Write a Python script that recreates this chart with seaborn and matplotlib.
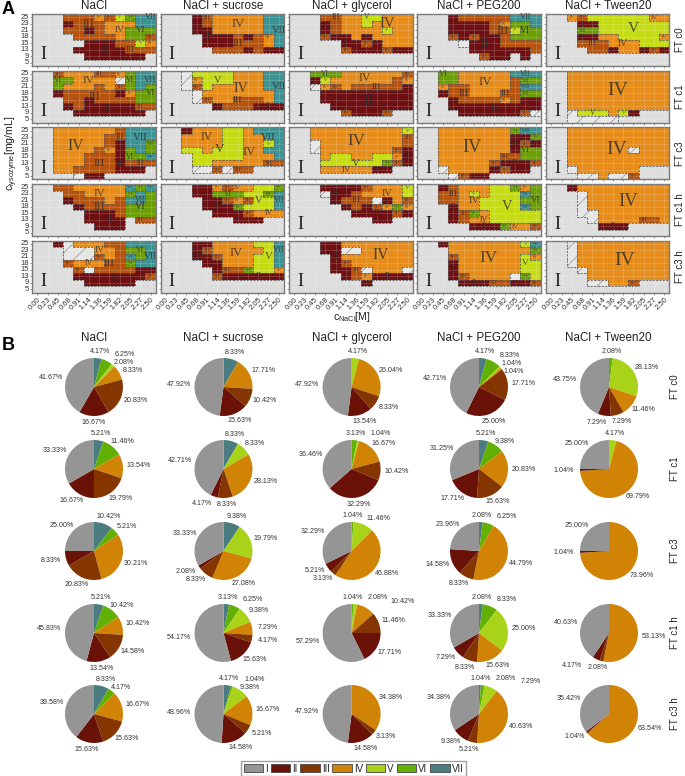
import numpy as np
import pandas as pd
import seaborn as sns
import matplotlib.pyplot as plt
from matplotlib.collections import LineCollection
from matplotlib.colors import ListedColormap
from matplotlib.patches import Patch, Rectangle

# =========================
# AXIS VALUES / NAMES
# =========================
nacl = ["0.00", "0.23", "0.45", "0.68", "0.91", "1.14", "1.36", "1.59", "1.82", "2.05", "2.27", "2.50"]
lysozyme = ["25", "23", "21", "18", "15", "13", "9", "5"]
solutions = ["NaCl", "NaCl + sucrose", "NaCl + glycerol", "NaCl + PEG200", "NaCl + Tween20"]
cycles = ["FT c0", "FT c1", "FT c3", "FT c1 h", "FT c3 h"]
phases = ["I", "II", "III", "IV", "V", "VI", "VII"]

# =========================
# PHASE MAPS, top row = 25 mg/mL, 0 = hatched
# =========================
nacl_c0 = ["111333435677", "111233344477", "111332344666", "111133334663",
           "111112223354", "111122222333", "111112222221", "111111111111"]
nacl_c1 = ["113444334677", "116644440677", "116444343676", "112333332466",
           "111332333366", "111232222233", "111122222221", "111111111111"]
nacl_c3 = ["114444443777", "114444433777", "114444432776", "114444342676",
           "114443332667", "114443332333", "114433332221", "111102211111"]
nacl_c1h = ["113344444767", "111334444676", "111233343776", "111123333666",
            "111112223666", "111112222133", "111111222111", "111111111111"]
nacl_c3h = ["112044433777", "111000443667", "111000343767", "111344433677",
            "111130333322", "111122222223", "111112222211", "111111111111"]

sucrose_c0 = ["111234444477", "111234444477", "111224444477", "111122232347",
              "111122233347", "111113332322", "111111111111", "111111111111"]
sucrose_c1 = ["110555544477", "110455544477", "110354444477", "111044444447",
              "111034433347", "111112333222", "111111111111", "111111111111"]
sucrose_c3 = ["112444554777", "114444554477", "114444554457", "115545554477",
              "111555554447", "111554444433", "111003033111", "111111111111"]
sucrose_c1h = ["111224344556", "111226665567", "111122343557", "111122265557",
               "111112223444", "111111122211", "111111111111", "111111111111"]
sucrose_c3h = ["111224444557", "111234444457", "111223444557", "111122444557",
               "111112336554", "111113222222", "111111111111", "111111111111"]

glycerol_c0 = ["111334455444", "111234454444", "111234444544", "111322424444",
               "111112232444", "111113222322", "111111111111", "111111111111"]
glycerol_c1 = ["116664444443", "112544444434", "110434333332", "111222222222",
               "111222222222", "111122222222", "111113222311", "111111111111"]
glycerol_c3 = ["114444444445", "114444444443", "110444444443", "110444444432",
               "111455445542", "111555555632", "111444442211", "111111111111"]
glycerol_c1h = ["111222234445", "111022344445", "111123330243", "111112323464",
                "111111222232", "111111112211", "111111111111", "111111111111"]
glycerol_c3h = ["111224444444", "111220044444", "111124444444", "111123444444",
                "111122304440", "111112342222", "111111121111", "111111111111"]

peg_c0 = ["111233333777", "111222234667", "111222233566", "111323223666",
          "111102223333", "111112222223", "111111322121", "111111111111"]
peg_c1 = ["116644444777", "116644444366", "114334444377", "112334443366",
          "111233334322", "111222222222", "111122222230", "111111111111"]
peg_c3 = ["114444444677", "114444444226", "114444444232", "114444444266",
          "114444443366", "114444432223", "110444423221", "111032211111"]
peg_c1h = ["112344455646", "113345455576", "113344555566", "111244555576",
           "111236455555", "111234455555", "111112226443", "111111111111"]
peg_c3h = ["112444444457", "111444444446", "111344444454", "111244444455",
           "111244444455", "111234444065", "111122233223", "111111111111"]

tween_c0 = ["114355555544", "111225555555", "111665555555", "111224455554",
            "111333444555", "111133244232", "111111111111", "111111111111"]
tween_c1 = ["114444444444", "114444444444", "114444444444", "114444444444",
            "114444444444", "114444444444", "110555452111", "110000011111"]
tween_c3 = ["114444444444", "114444444444", "114444444444", "114444440444",
            "114444444444", "114444444444", "110444444111", "111004003111"]
tween_c1h = ["112444444444", "111044444444", "111044444444", "111044444444",
             "111004444444", "111104444334", "111112221111", "111111111111"]
tween_c3h = ["110444444444", "110444444444", "110444444444", "110444444444",
             "111044444444", "111144444444", "111100443111", "111111111111"]

maps = [
    [nacl_c0, nacl_c1, nacl_c3, nacl_c1h, nacl_c3h],
    [sucrose_c0, sucrose_c1, sucrose_c3, sucrose_c1h, sucrose_c3h],
    [glycerol_c0, glycerol_c1, glycerol_c3, glycerol_c1h, glycerol_c3h],
    [peg_c0, peg_c1, peg_c3, peg_c1h, peg_c3h],
    [tween_c0, tween_c1, tween_c3, tween_c1h, tween_c3h],
]

# =========================
# PIE SHARES (%), order I..VII, one row per FT condition
# =========================
pie_nacl = [[41.67, 16.67, 20.83, 8.33, 2.08, 6.25, 4.17],
            [33.33, 16.67, 19.79, 13.54, 0, 11.46, 5.21],
            [25.00, 8.33, 20.83, 30.21, 0, 5.21, 10.42],
            [45.83, 13.54, 14.58, 10.42, 0, 10.42, 5.21],
            [39.58, 15.63, 15.63, 16.67, 0, 4.17, 8.33]]
pie_sucrose = [[47.92, 15.63, 10.42, 17.71, 0, 0, 8.33],
               [42.71, 4.17, 8.33, 28.13, 8.33, 0, 8.33],
               [33.33, 2.08, 8.33, 27.08, 19.79, 0, 9.38],
               [54.17, 15.63, 4.17, 7.29, 9.38, 6.25, 3.13],
               [48.96, 14.58, 5.21, 16.67, 9.38, 1.04, 4.17]]
pie_glycerol = [[47.92, 13.54, 8.33, 26.04, 4.17, 0, 0],
                [36.46, 32.29, 10.42, 16.67, 1.04, 3.13, 0],
                [32.29, 5.21, 3.13, 46.88, 11.46, 1.04, 0],
                [57.29, 17.71, 11.46, 10.42, 2.08, 1.04, 0],
                [47.92, 14.58, 3.13, 34.38, 0, 0, 0]]
pie_peg = [[42.71, 25.00, 17.71, 1.04, 1.04, 8.33, 4.17],
           [31.25, 17.71, 15.63, 20.83, 0, 9.38, 5.21],
           [23.96, 14.58, 8.33, 44.79, 0, 6.25, 2.08],
           [33.33, 7.29, 8.33, 15.63, 25.00, 8.33, 2.08],
           [34.38, 9.38, 5.21, 40.63, 7.29, 2.08, 1.04]]
pie_tween = [[43.75, 7.29, 7.29, 11.46, 28.13, 2.08, 0],
             [25.00, 1.04, 0, 69.79, 4.17, 0, 0],
             [25.00, 1.04, 0, 73.96, 0, 0, 0],
             [40.63, 4.17, 2.08, 53.13, 0, 0, 0],
             [35.42, 1.04, 0, 63.54, 0, 0, 0]]
pies = [pie_nacl, pie_sucrose, pie_glycerol, pie_peg, pie_tween]

# colours: index 0 = hatched cell background
tile_colors = ["#E6E6E6", "#DDDDDD", "#6E0F12", "#B5530F", "#E68C1B", "#C5DC15", "#6C9E06", "#3D9393"]
pie_colors = ["#959595", "#6A1208", "#843500", "#D18305", "#A9D318", "#62B004", "#4B7D80"]

sns.set_theme(style="white")
plt.rcParams["font.family"] = ["Liberation Sans", "DejaVu Sans"]
plt.rcParams["hatch.linewidth"] = 0.5
plt.rcParams["mathtext.fontset"] = "custom"
plt.rcParams["mathtext.rm"] = "Liberation Sans"

W, H = 685, 776
fig = plt.figure(figsize=(W / 100, H / 100), dpi=100)


def box(x0, y0, x1, y1):
    return [x0 / W, 1 - y1 / H, (x1 - x0) / W, (y1 - y0) / H]


def find_regions(grid):
    # connected cells of one phase, smallest first (they have the fewest free spots)
    seen = np.zeros(grid.shape, bool)
    regions = []
    for r0, c0 in np.ndindex(grid.shape):
        if seen[r0, c0] or grid[r0, c0] <= 1:
            continue
        cells, todo = [], [(r0, c0)]
        seen[r0, c0] = True
        while todo:
            r, c = todo.pop()
            cells.append((r, c))
            for rr, cc in [(r + 1, c), (r - 1, c), (r, c + 1), (r, c - 1)]:
                if 0 <= rr < grid.shape[0] and 0 <= cc < grid.shape[1]:
                    if not seen[rr, cc] and grid[rr, cc] == grid[r, c]:
                        seen[rr, cc] = True
                        todo.append((rr, cc))
        regions.append((grid[r0, c0], cells))
    return sorted(regions, key=lambda g: len(g[1]))


def label_phases(ax, grid):
    # the I region is always labelled bottom left
    ax.text(1.07, 6.3, "I", family="Liberation Serif", fontsize=13, color="#222222", ha="center", va="center")
    placed = []
    for phase, cells in find_regions(grid):
        name = phases[phase - 1]
        pts = np.array(cells, float) + 0.5
        mid = pts.mean(axis=0)
        order = pts[np.argsort(((pts - mid) ** 2).sum(axis=1))]
        spots = [mid] + list(order) if len(cells) > 12 else list(order)
        size = min(14, 3.4 + 1.5 * np.sqrt(len(cells) - 1))
        # half sizes in cell units (cell = 10.3 x 6.5 px)
        hw = len(name) * 0.3 * size * 100 / 72 / 10.3
        hh = 0.33 * size * 100 / 72 / 6.5
        spot = spots[0]
        for s in spots:
            if all(abs(s[1] - p[0]) > hw + p[2] or abs(s[0] - p[1]) > hh + p[3] for p in placed):
                spot = s
                break
        placed.append((spot[1], spot[0], hw, hh))
        ax.text(spot[1], spot[0], name, family="Liberation Serif", fontsize=size, color="#2b2b2b",
                alpha=0.8, ha="center", va="center")


def draw_map(ax, rows, show_x, show_y):
    grid = np.array([[int(ch) for ch in row] for row in rows])
    table = pd.DataFrame(grid, index=lysozyme, columns=nacl)
    sns.heatmap(table, ax=ax, cmap=ListedColormap(tile_colors), vmin=-0.5, vmax=7.5, cbar=False,
                xticklabels=show_x, yticklabels=show_y, linewidths=0)
    for r, c in zip(*np.where(grid == 0)):
        ax.add_patch(Rectangle((c, r), 1, 1, fill=False, hatch="//", edgecolor="#8c8c8c", lw=0))
    segs = []
    for r, c in np.ndindex(grid.shape):
        if c + 1 < grid.shape[1] and grid[r, c] != grid[r, c + 1]:
            segs.append([(c + 1, r), (c + 1, r + 1)])
        if r + 1 < grid.shape[0] and grid[r, c] != grid[r + 1, c]:
            segs.append([(c, r + 1), (c + 1, r + 1)])
    ax.add_collection(LineCollection(segs, colors="#5a5a5a", linewidths=0.6, linestyles=[(0, (2.5, 1.5))]))
    label_phases(ax, grid)
    ax.grid(True, color="white", alpha=0.22, lw=0.5)
    ax.set_axisbelow(False)
    ax.set_xlabel("")
    ax.set_ylabel("")
    for s in ax.spines.values():
        s.set_visible(True)
        s.set_color("#7a7a7a")
        s.set_linewidth(1.0)
    ax.tick_params(bottom=True, left=True, length=1.6, width=0.4, color="#555555", labelsize=5.5,
                   labelcolor="#333333", pad=1)
    ax.set_xticks(np.arange(len(nacl)) + 0.5)
    ax.set_yticks(np.arange(len(lysozyme)) + 0.5)
    if show_x:
        ax.set_xticklabels(nacl, rotation=45, ha="right", rotation_mode="anchor")
    else:
        ax.set_xticklabels([])
    if show_y:
        ax.set_yticklabels(lysozyme, rotation=0)
    else:
        ax.set_yticklabels([])


def draw_pie(ax, shares):
    vals = shares[::-1]
    cols = pie_colors[::-1]
    keep = [i for i, v in enumerate(vals) if v > 0]
    vals = [vals[i] for i in keep]
    ax.pie(vals, colors=[cols[i] for i in keep], startangle=90, counterclock=False, radius=1,
           wedgeprops={"linewidth": 0})
    ax.set_xlim(-1, 1)
    ax.set_ylim(-1, 1)
    # labels around the rim, nudged apart where slices are thin
    R = 29.0
    ang = 0.0
    last = None
    for v in vals:
        a = np.deg2rad(ang + v * 3.6 / 2)
        ang += v * 3.6
        x = (R + 16) * np.sin(a)
        y = (R + 7) * np.cos(a)
        if last is not None and abs(x - last[0]) < 25 and abs(y - last[1]) < 8:
            if abs(y) > 0.85 * (R + 7):
                x = last[0] + 25 if y > 0 else last[0] - 25
            else:
                y = last[1] - 8 if x >= 0 else last[1] + 8
        last = (x, y)
        ax.text(x / R, y / R, f"{v:.2f}%", fontsize=5.1, color="#333333", ha="center", va="center",
                clip_on=False)


# =========================
# PANEL A - phase maps
# =========================
map_x = [(32.3, 155.7), (160.7, 284), (289.3, 412.7), (417.3, 540.7), (546.3, 669.3)]
map_y = [(14, 66), (70.7, 122.7), (127.3, 179.3), (184, 236), (240.7, 292.7)]

for i, (x0, x1) in enumerate(map_x):
    for j, (y0, y1) in enumerate(map_y):
        ax = fig.add_axes(box(x0, y0, x1, y1))
        draw_map(ax, maps[i][j], j == len(map_y) - 1, i == 0)

title_x = [94, 223, 352, 479, 608]
for t, x in zip(solutions, title_x):
    fig.text(x / W, 1 - 6 / H, t, fontsize=8.4, ha="center", va="center", color="#222222")
    fig.text(x / W, 1 - 338 / H, t, fontsize=8.4, ha="center", va="center", color="#222222")
for t, (y0, y1) in zip(cycles, map_y):
    fig.text(680 / W, 1 - (y0 + y1) / 2 / H, t, fontsize=7, rotation=90, ha="center", va="center",
             color="#222222")

fig.text(12 / W, 1 - 153 / H, r"c$_{\mathrm{lysozyme}}$[mg/mL]", fontsize=7.6, rotation=90,
         ha="center", va="center", color="#222222")
fig.text(352 / W, 1 - 317 / H, r"c$_{\mathrm{NaCl}}$[M]", fontsize=7.6, ha="center", va="center",
         color="#222222")
fig.text(2 / W, 1 - 9 / H, "A", fontsize=13, fontweight="bold", ha="left", va="center", color="black")
fig.text(2 / W, 1 - 345 / H, "B", fontsize=13, fontweight="bold", ha="left", va="center", color="black")

# =========================
# PANEL B - pies
# =========================
pie_x = [94, 223.5, 351.6, 479, 609]
pie_y = [387, 469, 551, 633, 714]

for i, x in enumerate(pie_x):
    for j, y in enumerate(pie_y):
        ax = fig.add_axes(box(x - 29, y - 29, x + 29, y + 29))
        draw_pie(ax, pies[i][j])

for t, y in zip(cycles, pie_y):
    fig.text(675 / W, 1 - y / H, t, fontsize=7, rotation=90, ha="center", va="center", color="#222222")

handles = [Patch(facecolor=c, edgecolor="#444444", linewidth=0.6) for c in pie_colors]
fig.legend(handles, phases, loc="center", bbox_to_anchor=(353.5 / W, 1 - 768.5 / H), ncol=7, fontsize=7,
           frameon=True, fancybox=False, edgecolor="#888888", handlelength=2.0, handleheight=0.9,
           handletextpad=0.2, columnspacing=0.3, borderpad=0.25, borderaxespad=0)

plt.savefig("out.png", dpi=100)
